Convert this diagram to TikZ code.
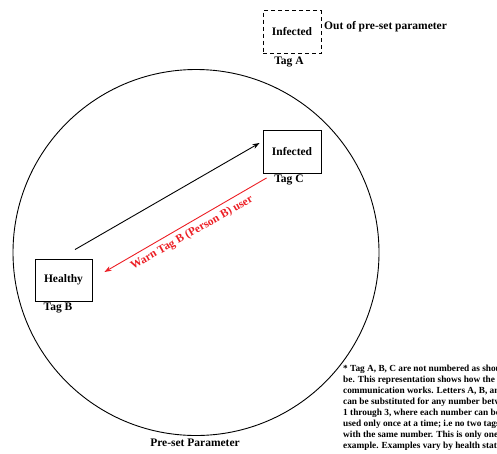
\documentclass[tikz,border=0pt]{standalone}
\usepackage{fontspec}
\setmainfont{Liberation Serif}
\usetikzlibrary{arrows.meta}
\definecolor{warnred}{RGB}{236,30,36}
\begin{document}
\begin{tikzpicture}[x=1pt,y=-1pt,
  every node/.style={font=\fontsize{11.5}{13}\selectfont\bfseries, inner sep=0pt},
  tagbox/.style={draw, line width=0.9pt, minimum width=58pt, minimum height=43pt},
  dashbox/.style={tagbox, dash pattern=on 4pt off 3pt},
  tagname/.style={font=\fontsize{11.5}{13}\selectfont\bfseries},
  link/.style={line width=0.9pt, -{Stealth[length=7pt,width=5pt]}},
  note/.style={font=\fontsize{9.3}{11}\selectfont\bfseries, align=left, anchor=north west}
]
\useasboundingbox (0,0) rectangle (497,453);

% pre-set parameter boundary
\draw[line width=0.9pt] (196,252.5) circle[radius=183];
\node (pre) at (195,443) {Pre-set Parameter};

% tag outside the boundary
\node[dashbox] (tA) at (292,32) {Infected};
\node[tagname] (lA) at (289,62) {Tag A};
\node[anchor=west] (out) at (324,27) {Out of pre-set parameter};

% tags inside the boundary
\node[tagbox] (tC) at (292,152) {Infected};
\node[tagname] (lC) at (289,180) {Tag C};
\node[tagbox, minimum width=57pt, minimum height=42pt] (tB) at (63.5,280) {Healthy};
\node[tagname] (lB) at (58,308) {Tag B};

% contact and warning
\draw[link] ([shift={(11.5,-9)}]tB.north) -- ([shift={(-3,-9)}]tC.west);
\draw[link, warnred] ([shift={(4,4)}]tC.south west) -- ([shift={(12,-8)}]tB.east);
\node[text=warnred, rotate=29.5] (warn) at (192,233) {Warn Tag B (Person B) user};

% footnote, running past the right edge
\begin{scope}
\clip (330,355) rectangle (497,453);
\node[note] (fn) at (343,365) {%
* Tag A, B, C are not numbered as should\\
be. This representation shows how the 3\\
communication works. Letters A, B, and C\\
can be substituted for any number between\\
1 through 3, where each number can be\\
used only once at a time; i.e no two tags\\
with the same number. This is only one\\
example. Examples vary by health status.};
\end{scope}
\end{tikzpicture}
\end{document}
